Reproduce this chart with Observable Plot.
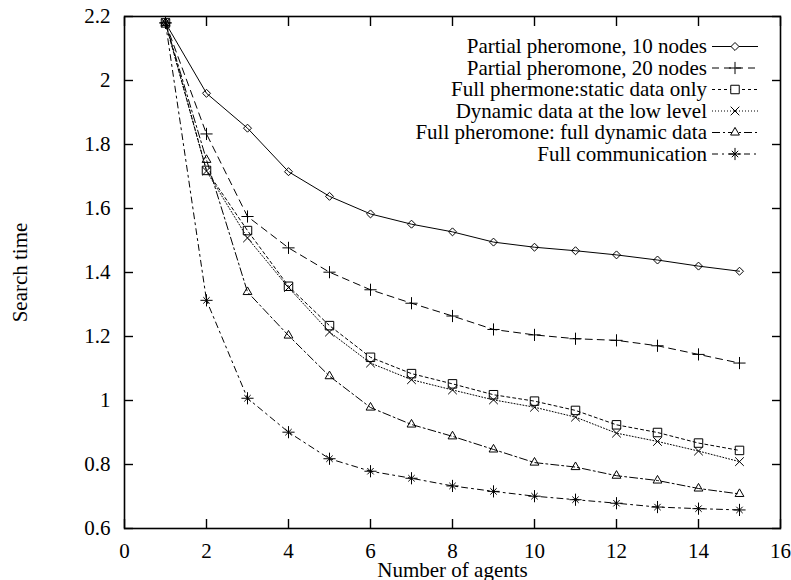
<!DOCTYPE html>
<html><head><meta charset="utf-8">
<script src="https://cdn.jsdelivr.net/npm/d3@7"></script>
<script src="https://cdn.jsdelivr.net/npm/@observablehq/plot@0.6"></script>
<style>body{margin:0;background:#fff} svg{display:block}</style>
</head><body><div id="chart"></div>
<script>
// ---- data ----
const agents = [1,2,3,4,5,6,7,8,9,10,11,12,13,14,15];
const partial10   = [2.18,1.960,1.851,1.715,1.638,1.583,1.551,1.527,1.495,1.479,1.468,1.455,1.439,1.420,1.404];
const partial20   = [2.18,1.833,1.575,1.477,1.401,1.346,1.304,1.264,1.222,1.205,1.193,1.188,1.171,1.144,1.117];
const fullStatic  = [2.18,1.719,1.531,1.357,1.234,1.135,1.084,1.052,1.018,0.998,0.969,0.924,0.900,0.867,0.844];
const dynamicLow  = [2.18,1.717,1.508,1.353,1.214,1.117,1.065,1.033,1.002,0.979,0.948,0.898,0.872,0.842,0.809];
const fullDynamic = [2.18,1.752,1.339,1.203,1.076,0.978,0.925,0.888,0.847,0.806,0.792,0.765,0.750,0.725,0.708];
const fullComm    = [2.18,1.313,1.007,0.901,0.818,0.779,0.757,0.733,0.716,0.701,0.690,0.679,0.667,0.662,0.658];
const seriesNames = [
  "Partial pheromone, 10 nodes",
  "Partial pheromone, 20 nodes",
  "Full phermone:static data only",
  "Dynamic data at the low level",
  "Full pheromone: full dynamic data",
  "Full communication"
];
const seriesValues = [partial10, partial20, fullStatic, dynamicLow, fullDynamic, fullComm];
const xTicks = [0,2,4,6,8,10,12,14,16];
const yTicks = [0.6,0.8,1.0,1.2,1.4,1.6,1.8,2.0,2.2];
const yTickLabels = ["0.6","0.8","1","1.2","1.4","1.6","1.8","2","2.2"];
const xLabel = "Number of agents";
const yLabel = "Search time";

// ---- styles ----
const styles = [
  {dash: null,         symbols: [{s: "diamond2", r: 3.6}]},
  {dash: "7,5",        symbols: [{s: "plus", r: 4.0}]},
  {dash: "3,3",        symbols: [{s: "square2", r: 5.4}]},
  {dash: "1,2",        symbols: [{s: "times", r: 4.0}]},
  {dash: "8,3,2,3",    symbols: [{s: "triangle2", r: 4.2}]},
  {dash: "6,4,2,4",    symbols: [{s: "plus", r: 4.0}, {s: "times", r: 3.0}]}
];
const font = "'Liberation Serif', 'Times New Roman', serif";

const rows = seriesNames.flatMap((name, i) =>
  agents.map((a, j) => ({series: name, idx: i, agents: a, time: seriesValues[i][j]})));

const seriesMarks = seriesNames.flatMap((name, i) => {
  const d = rows.filter(r => r.idx === i);
  return [
    Plot.line(d, {x: "agents", y: "time", stroke: "black", strokeWidth: 1, strokeDasharray: styles[i].dash}),
    ...styles[i].symbols.map(sym =>
      Plot.dot(d, {x: "agents", y: "time", symbol: sym.s, r: sym.r, stroke: "black", strokeWidth: 1, fill: "none"}))
  ];
});

const yFmt = d => yTickLabels[yTicks.findIndex(t => Math.abs(t - d) < 1e-9)];

const svg = Plot.plot({
  width: 791, height: 580,
  marginLeft: 124, marginRight: 11, marginTop: 16, marginBottom: 52,
  style: {fontFamily: font, fontSize: "21px", background: "white", color: "black"},
  x: {domain: [0, 16]},
  y: {domain: [0.6, 2.2]},
  marks: [
    ...seriesMarks,
    Plot.axisX({ticks: xTicks, tickSize: -9, tickPadding: 24, strokeWidth: 1.4, label: null, tickFormat: d => String(d)}),
    Plot.axisX({anchor: "top", ticks: xTicks, tickSize: -9, strokeWidth: 1.4, label: null, tickFormat: () => ""}),
    Plot.axisY({ticks: yTicks, tickSize: -9, tickPadding: 23, strokeWidth: 1.4, label: null, tickFormat: yFmt}),
    Plot.axisY({anchor: "right", ticks: yTicks, tickSize: -9, strokeWidth: 1.4, label: null, tickFormat: () => ""}),
    Plot.frame({stroke: "black", strokeWidth: 1.6}),
    Plot.text([xLabel], {text: d => d, frameAnchor: "bottom", lineAnchor: "middle", textAnchor: "middle", dy: 42, fontSize: 21, fontFamily: font}),
    Plot.text([yLabel], {text: d => d, frameAnchor: "left", lineAnchor: "middle", textAnchor: "middle", dx: -104, rotate: -90, fontSize: 21, fontFamily: font})
  ]
});

// ---- legend (key, top right, gnuplot style) ----
const g = d3.select(svg).append("g");
const textRight = 707, lineX1 = 712, lineX2 = 758, markX = 735, row0 = 46.5, rowStep = 21.5;
const symTypes = {diamond2: d3.symbolDiamond2, plus: d3.symbolPlus, square2: d3.symbolSquare2,
                  times: d3.symbolTimes, triangle2: d3.symbolTriangle2};
seriesNames.forEach((name, i) => {
  const cy = row0 + i * rowStep;
  g.append("text").attr("x", textRight).attr("y", cy).attr("dy", "0.33em")
    .style("font-family", font).style("font-size", "21px")
    .attr("text-anchor", "end").attr("fill", "black").text(name);
  g.append("line").attr("x1", lineX1).attr("x2", lineX2).attr("y1", cy).attr("y2", cy)
    .attr("stroke", "black").attr("stroke-width", 1)
    .attr("stroke-dasharray", styles[i].dash);
  styles[i].symbols.forEach(sym => {
    g.append("path").attr("transform", `translate(${markX},${cy})`)
      .attr("d", d3.symbol(symTypes[sym.s], sym.r * sym.r * Math.PI)())
      .attr("fill", "white").attr("stroke", "black").attr("stroke-width", 1);
  });
});

document.getElementById("chart").appendChild(svg);
</script>
</body></html>
